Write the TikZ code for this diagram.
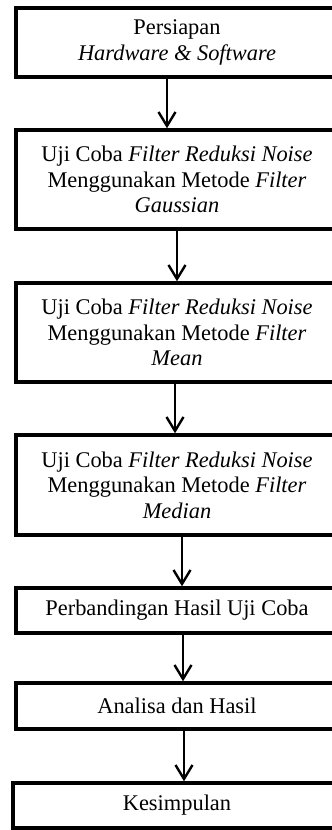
\documentclass[tikz,border=0pt]{standalone}
\usepackage{fontspec}
\setmainfont{Liberation Serif}
\usetikzlibrary{arrows.meta}
\begin{document}
\begin{tikzpicture}[x=1pt,y=-1pt,
  stepbox/.style={draw=black, line width=3.4pt, minimum width=322pt, inner sep=0pt,
    align=center, font=\fontsize{22.4}{25.5}\selectfont},
  arr/.style={line width=2.4pt, -{Straight Barb[length=14pt,width=17pt,line width=2.4pt]}}]
\useasboundingbox (0,0) rectangle (332,830);
\fill[white] (0,0) rectangle (332,830);
\clip (0,0) rectangle (332,830);
\node[stepbox, minimum height=69pt] (b1) at (177,42.5) {Persiapan\\\textit{Hardware \& Software}};
\node[stepbox, minimum height=99pt] (b2) at (177,179.5) {Uji Coba \textit{Filter Reduksi Noise}\\Menggunakan Metode \textit{Filter}\\\textit{Gaussian}};
\node[stepbox, minimum height=99pt] (b3) at (177,332.5) {Uji Coba \textit{Filter Reduksi Noise}\\Menggunakan Metode \textit{Filter}\\\textit{Mean}};
\node[stepbox, minimum height=100pt] (b4) at (177,485) {Uji Coba \textit{Filter Reduksi Noise}\\Menggunakan Metode \textit{Filter}\\\textit{Median}};
\node[stepbox, minimum height=45pt] (b5) at (177,610.5) {Perbandingan Hasil Uji Coba};
\node[stepbox, minimum height=46pt] (b6) at (177,706) {Analisa dan Hasil};
\node[stepbox, minimum height=45pt, minimum width=328pt] (b7) at (177,805.5) {Kesimpulan};
\draw[arr] ([xshift=-10pt]b1.south) -- ([xshift=-10pt]b2.north);
\draw[arr] ([xshift=0pt]b2.south) -- ([xshift=0pt]b3.north);
\draw[arr] ([xshift=-2pt]b3.south) -- ([xshift=-2pt]b4.north);
\draw[arr] ([xshift=5pt]b4.south) -- ([xshift=5pt]b5.north);
\draw[arr] ([xshift=6pt]b5.south) -- ([xshift=6pt]b6.north);
\draw[arr] ([xshift=7pt]b6.south) -- ([xshift=7pt]b7.north);
\end{tikzpicture}
\end{document}
